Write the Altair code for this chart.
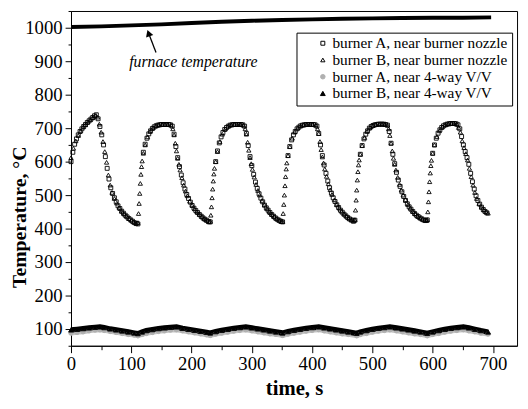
import altair as alt
import pandas as pd

SERIES = ["burner A, near burner nozzle", "burner B, near burner nozzle",
          "burner A, near 4-way V/V", "burner B, near 4-way V/V"]

# (time s, temperature degC)
nozzle_a = [
    (0, 600), (3, 628), (6, 652), (9, 668), (12, 680), (15, 690), (18, 698), (21, 705), (24, 711), (27, 717),
    (30, 722), (33, 727), (36, 732), (39, 737), (42, 740), (45, 728), (48, 705), (51, 680), (54, 650), (57, 615),
    (60, 580), (63, 548), (66, 522), (69, 505), (72, 492), (75, 480), (78, 468), (81, 460), (84, 452), (87, 446),
    (90, 440), (93, 435), (96, 430), (99, 426), (102, 422), (105, 418), (108, 415),
    (111, 414), (120, 628), (123, 652), (126, 670), (129, 683), (132, 692), (135, 699), (138, 704), (141, 707),
    (144, 709), (147, 710), (150, 711), (153, 711), (156, 711), (159, 711), (162, 711), (165, 710), (168, 706),
    (171, 682), (174, 645), (177, 612), (180, 585), (183, 560), (186, 537), (189, 518), (192, 502), (195, 490),
    (198, 479), (201, 469), (204, 461), (207, 454), (210, 448), (213, 442), (216, 437), (219, 432), (222, 428),
    (225, 425), (228, 421),
    (231, 420), (240, 600), (243, 632), (246, 656), (249, 674), (252, 687), (255, 696), (258, 702), (261, 706),
    (264, 709), (267, 710), (270, 711), (273, 711), (276, 711), (279, 711), (282, 711), (285, 710), (288, 706),
    (291, 684), (294, 648), (297, 615), (300, 588), (303, 562), (306, 539), (309, 520), (312, 504), (315, 491),
    (318, 480), (321, 470), (324, 462), (327, 455), (330, 448), (333, 442), (336, 437), (339, 432), (342, 428),
    (345, 425), (348, 422),
    (351, 420), (360, 618), (363, 645), (366, 665), (369, 680), (372, 690), (375, 698), (378, 703), (381, 707),
    (384, 709), (387, 710), (390, 711), (393, 711), (396, 711), (399, 711), (402, 711), (405, 710), (408, 706),
    (411, 684), (414, 650), (417, 618), (420, 590), (423, 565), (426, 542), (429, 522), (432, 506), (435, 492),
    (438, 481), (441, 471), (444, 463), (447, 455), (450, 449), (453, 443), (456, 438), (459, 433), (462, 429),
    (465, 426), (468, 423),
    (471, 425), (480, 622), (483, 648), (486, 668), (489, 682), (492, 692), (495, 700), (498, 705), (501, 708),
    (504, 710), (507, 711), (510, 712), (513, 712), (516, 712), (519, 712), (522, 711), (525, 709), (528, 690),
    (531, 655), (534, 622), (537, 594), (540, 568), (543, 545), (546, 526), (549, 510), (552, 496), (555, 484),
    (558, 474), (561, 465), (564, 458), (567, 451), (570, 445), (573, 440), (576, 436), (579, 432), (582, 429),
    (585, 426), (588, 424),
    (591, 426), (600, 625), (603, 650), (606, 670), (609, 685), (612, 695), (615, 702), (618, 707), (621, 710),
    (624, 712), (627, 713), (630, 714), (633, 714), (636, 714), (639, 713), (642, 710), (645, 698), (648, 675),
    (651, 650), (654, 630), (657, 612), (660, 592), (663, 565), (666, 540), (669, 518), (672, 498), (675, 484),
    (678, 473), (681, 464), (684, 457), (687, 451), (690, 447),
]

nozzle_b = [
    (0, 612), (4, 640), (8, 662), (12, 678), (16, 692), (20, 703), (24, 710), (28, 718), (32, 725), (36, 731),
    (40, 737), (44, 733), (47, 712), (50, 688), (53, 660), (56, 630), (59, 598), (62, 560), (65, 530), (68, 508),
    (72, 490), (76, 476), (80, 463), (84, 452), (88, 444), (92, 437), (96, 430), (100, 425), (104, 420), (108, 416),
    (111, 418), (112, 445), (113, 475), (114, 505), (115, 535), (116, 562), (117, 585), (118, 602), (120, 625),
    (123, 650), (127, 674), (131, 690), (136, 701), (141, 707), (146, 710), (151, 711), (156, 711), (161, 711),
    (166, 709), (169, 698), (171, 680), (173, 655), (175, 632), (177, 610), (179, 592), (181, 575), (184, 552),
    (187, 530), (190, 512), (193, 498), (197, 482), (201, 470), (205, 459), (209, 450), (213, 443), (217, 436),
    (221, 430), (225, 425), (229, 420),
    (231, 422), (232, 440), (233, 465), (234, 492), (235, 518), (236, 542), (237, 563), (238, 580), (240, 600),
    (243, 630), (247, 660), (251, 682), (256, 698), (261, 706), (266, 710), (271, 711), (276, 711), (281, 711),
    (286, 709), (289, 698), (291, 682), (293, 658), (295, 634), (297, 612), (299, 594), (301, 577), (304, 554),
    (307, 532), (310, 514), (313, 500), (317, 484), (321, 471), (325, 460), (329, 451), (333, 443), (337, 436),
    (341, 430), (345, 425), (349, 421),
    (351, 421), (352, 445), (353, 472), (354, 500), (355, 528), (356, 555), (357, 578), (358, 596), (360, 618),
    (363, 645), (367, 670), (371, 688), (376, 700), (381, 707), (386, 710), (391, 711), (396, 711), (401, 711),
    (406, 709), (409, 698), (411, 684), (413, 660), (415, 636), (417, 614), (419, 596), (421, 578), (424, 556),
    (427, 534), (430, 516), (433, 502), (437, 486), (441, 472), (445, 461), (449, 452), (453, 444), (457, 437),
    (461, 431), (465, 426), (469, 422),
    (471, 427), (472, 455), (473, 485), (474, 515), (475, 545), (476, 570), (477, 590), (478, 605), (480, 622),
    (483, 648), (487, 672), (491, 690), (496, 702), (501, 708), (506, 711), (511, 712), (516, 712), (521, 711),
    (525, 709), (527, 698), (529, 678), (531, 655), (533, 632), (535, 610), (537, 592), (539, 575), (542, 553),
    (545, 532), (548, 515), (551, 500), (555, 486), (559, 472), (563, 461), (567, 452), (571, 444), (575, 437),
    (579, 432), (583, 428), (587, 425), (590, 424),
    (591, 427), (592, 450), (593, 480), (594, 510), (595, 540), (596, 566), (597, 588), (598, 604), (600, 625),
    (603, 650), (607, 675), (611, 692), (616, 704), (621, 710), (626, 713), (631, 714), (636, 714), (640, 712),
    (643, 702), (646, 688), (649, 662), (652, 642), (655, 624), (658, 605), (661, 580), (664, 555), (667, 530),
    (670, 508), (673, 490), (677, 475), (681, 464), (685, 455), (689, 449), (692, 446),
]

valve_a = [
    (0, 88), (10, 90), (20, 92), (30, 95), (40, 97), (48, 98), (55, 96), (65, 93), (75, 90), (85, 87), (95, 84),
    (105, 82), (111, 80), (118, 84), (125, 87), (135, 90), (145, 93), (155, 95), (165, 97), (175, 98), (185, 95),
    (195, 92), (205, 89), (215, 86), (225, 83), (231, 81), (240, 85), (250, 88), (260, 91), (270, 94), (280, 96),
    (290, 98), (300, 95), (310, 92), (320, 89), (330, 86), (340, 84), (351, 81), (360, 85), (370, 88), (380, 91),
    (390, 94), (400, 96), (411, 98), (420, 95), (430, 92), (440, 89), (450, 86), (460, 84), (474, 80), (480, 84),
    (490, 87), (500, 91), (510, 94), (520, 96), (529, 98), (540, 95), (550, 92), (560, 89), (570, 86), (580, 84),
    (591, 80), (600, 84), (610, 87), (620, 91), (630, 94), (640, 96), (651, 98), (660, 95), (670, 92), (680, 88),
    (692, 85),
]

valve_b = [
    (0, 97), (10, 99), (20, 101), (30, 103), (40, 105), (48, 106), (55, 104), (65, 100), (75, 97), (85, 94),
    (95, 91), (105, 88), (111, 86), (118, 91), (125, 95), (135, 98), (145, 101), (155, 103), (165, 105), (175, 106),
    (185, 102), (195, 99), (205, 96), (215, 93), (225, 90), (231, 88), (240, 92), (250, 96), (260, 99), (270, 102),
    (280, 104), (290, 106), (300, 103), (310, 100), (320, 97), (330, 94), (340, 91), (351, 88), (360, 92),
    (370, 96), (380, 99), (390, 102), (400, 104), (411, 106), (420, 103), (430, 100), (440, 97), (450, 94),
    (460, 91), (474, 87), (480, 91), (490, 95), (500, 99), (510, 102), (520, 104), (529, 106), (540, 103),
    (550, 100), (560, 97), (570, 94), (580, 91), (591, 87), (600, 91), (610, 95), (620, 99), (630, 102),
    (640, 104), (651, 106), (660, 103), (670, 99), (680, 95), (692, 91),
]

furnace = [
    (0, 1002), (50, 1004), (100, 1007), (150, 1010), (200, 1014), (250, 1018), (300, 1021), (350, 1023),
    (400, 1025), (450, 1027), (500, 1028), (550, 1029), (600, 1030), (650, 1030), (697, 1031),
]

note_text = ["furnace temperature"]
note_pos = [(203, 897)]
arrow_tail = [(141, 926)]
arrow_head = [(128.6, 984)]

x_domain = [0, 740]
y_domain = [50, 1050]
x_ticks = list(range(0, 701, 50))
y_ticks = list(range(50, 1051, 50))


def frame(pairs, name):
    return pd.DataFrame({"time": [p[0] for p in pairs],
                         "temp": [p[1] for p in pairs],
                         "series": name})


points_df = pd.concat([frame(valve_a, SERIES[2]), frame(valve_b, SERIES[3]),
                       frame(nozzle_a, SERIES[0]), frame(nozzle_b, SERIES[1])],
                      ignore_index=True)

SERIF = "Liberation Serif"
LABEL_EXPR = "datum.value % 100 == 0 ? format(datum.value, 'd') : ''"

x_axis = alt.Axis(values=x_ticks, labelExpr=LABEL_EXPR,
                  tickSize={"condition": {"test": "datum.value % 100 == 0", "value": 7}, "value": 4},
                  grid=False, domainColor="black", tickColor="black", labelColor="black",
                  labelFont=SERIF, labelFontSize=19, labelFlush=False, labelOverlap=False,
                  labelPadding=2, title="time, s", titleFont=SERIF, titleFontSize=21,
                  titleFontWeight="bold", titleColor="black", titlePadding=5)
y_axis = alt.Axis(values=y_ticks, labelExpr=LABEL_EXPR,
                  tickSize={"condition": {"test": "datum.value % 100 == 0", "value": 6}, "value": 3},
                  grid=False, domainColor="black", tickColor="black", labelColor="black",
                  labelFont=SERIF, labelFontSize=19, labelFlush=False, labelOverlap=False,
                  labelPadding=3, title="Temperature, °C", titleFont=SERIF, titleFontSize=20,
                  titleFontWeight="bold", titleColor="black",
                  titleX=-52, titleY=209, titleBaseline="middle", titleAlign="center", titleAngle=270)

X = alt.X("time:Q", scale=alt.Scale(domain=x_domain, nice=False, zero=False), axis=x_axis)
Y = alt.Y("temp:Q", scale=alt.Scale(domain=y_domain, nice=False, zero=False), axis=y_axis)

legend = alt.Legend(title=None, orient="none", legendX=229, legendY=22, strokeColor="black",
                    fillColor="white", padding=3, labelFont=SERIF, labelFontSize=15.5,
                    labelColor="black", labelLimit=400, rowPadding=0, symbolOffset=16,
                    labelOffset=2, symbolStrokeWidth=1)

line_a = alt.Chart(frame(valve_a, SERIES[2])).mark_line(color="#c4c4c4", strokeWidth=5).encode(x=X, y=Y)
line_b = alt.Chart(frame(valve_b, SERIES[3])).mark_line(color="black", strokeWidth=5.5).encode(x=X, y=Y)
furnace_line = alt.Chart(frame(furnace, "furnace")).mark_line(color="black", strokeWidth=4).encode(x=X, y=Y)

points = alt.Chart(points_df).mark_point(strokeWidth=0.9, opacity=1).encode(
    x=X, y=Y,
    shape=alt.Shape("series:N", scale=alt.Scale(domain=SERIES, range=["square", "triangle-up", "circle", "triangle-up"]), legend=legend),
    color=alt.Color("series:N", scale=alt.Scale(domain=SERIES, range=["black", "black", "#b0b0b0", "black"]), legend=legend),
    fill=alt.Fill("series:N", scale=alt.Scale(domain=SERIES, range=["transparent", "transparent", "#b0b0b0", "black"]), legend=legend),
    size=alt.Size("series:N", scale=alt.Scale(domain=SERIES, range=[16, 24, 10, 22]), legend=legend),
)

note_df = pd.DataFrame({"time": [p[0] for p in note_pos], "temp": [p[1] for p in note_pos], "text": note_text})
note = alt.Chart(note_df).mark_text(font=SERIF, fontStyle="italic", fontSize=16, color="black",
                                    baseline="middle", align="center").encode(x=X, y=Y, text="text:N")

arrow_df = pd.DataFrame({"time": [p[0] for p in arrow_tail], "temp": [p[1] for p in arrow_tail],
                         "time2": [p[0] for p in arrow_head], "temp2": [p[1] for p in arrow_head]})
arrow_line = alt.Chart(arrow_df).mark_rule(color="black", strokeWidth=1.3).encode(
    x=X, y=Y, x2="time2:Q", y2="temp2:Q")
head_df = pd.DataFrame({"time": [p[0] for p in arrow_head], "temp": [p[1] for p in arrow_head]})
arrow_tip = alt.Chart(head_df).mark_point(shape="triangle-up", filled=True, size=60, angle=340,
                                          color="black", opacity=1).encode(x=X, y=Y)

chart = alt.layer(line_a, line_b, points, furnace_line, note, arrow_line, arrow_tip).properties(
    width=453, height=340,
    autosize=alt.AutoSizeParams(type="none"),
    padding={"left": 64, "top": 0, "right": 3, "bottom": 50},
).configure_view(stroke="black", strokeWidth=1)

chart.save("out.html", embed_options={"renderer": "svg", "actions": False})
